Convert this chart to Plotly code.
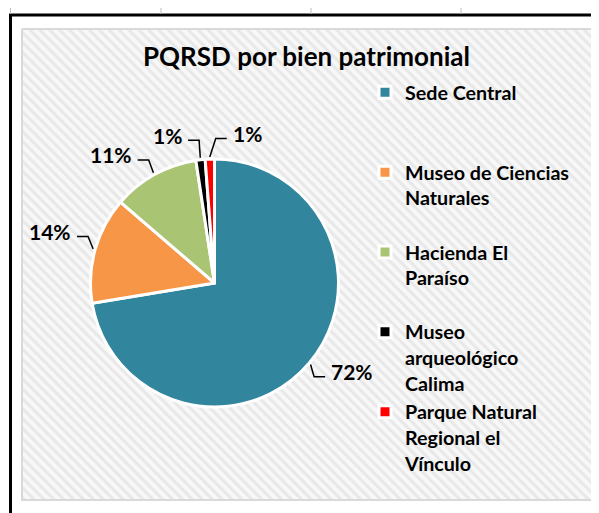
import math
import plotly.graph_objects as go

# ---------------- data ----------------
labels = [
    "Sede Central",
    "Museo de Ciencias Naturales",
    "Hacienda El Paraíso",
    "Museo arqueológico Calima",
    "Parque Natural Regional el Vínculo",
]
legend_text = [
    "<b>Sede Central</b><br> <br> ",
    "<b>Museo de Ciencias<br>Naturales</b><br> ",
    "<b>Hacienda El<br>Paraíso</b><br> ",
    "<b>Museo<br>arqueológico<br>Calima</b>",
    "<b>Parque Natural<br>Regional el<br>Vínculo</b>",
]
values = [72.4, 13.9, 11.3, 1.2, 1.2]
colors = ["#31859C", "#F79646", "#A9C472", "#000000", "#FF0000"]
title_text = "PQRSD por bien patrimonial"

# ---------------- layout constants (pixels, screen coordinates) ----------------
OFF = 8                      # page body margin
W, H = 599 - OFF, 513 - OFF  # figure size
SW, SH = 599, 513            # screen size
CX, CY, R = 214.5, 283.0, 124.0
FONT = "Lato"
# small angular nudges (deg) so the two tiny slice labels do not collide
label_nudge = [0, 3, -3, -4, 7]

fig = go.Figure()

# hatched chart-area background on a pixel-space overlay axis
bx0, by0, bx1, by1 = 22, 29, 593, 500
fig.add_trace(go.Scatter(
    x=[bx0, bx1, bx1, bx0, bx0], y=[by0, by0, by1, by1, by0],
    fill="toself", mode="lines",
    line=dict(color="#D9D9D9", width=2),
    fillcolor="#F4F4F4",
    fillpattern=dict(shape="\\", fgcolor="#D8D8D8", bgcolor="#F8F8F8",
                     size=7, solidity=0.45),
    hoverinfo="skip", showlegend=False,
))

# the pie
fig.add_trace(go.Pie(
    labels=legend_text, values=values, sort=False, direction="clockwise",
    rotation=0, marker=dict(colors=colors, line=dict(color="white", width=3)),
    textinfo="none", hovertext=labels, hoverinfo="text+percent",
    domain=dict(x=[(CX - OFF - R) / W, (CX - OFF + R) / W],
                y=[1 - (CY - OFF + R) / H, 1 - (CY - OFF - R) / H]),
))

# leader lines + percent labels computed from slice angles
total = sum(values)
cum = 0.0
annotations = []
for i, v in enumerate(values):
    mid = (cum + v / 2) / total * 360.0
    cum += v
    a = math.radians(mid)
    ex, ey = CX + (R + 2) * math.sin(a), CY - (R + 2) * math.cos(a)
    b = math.radians(mid + label_nudge[i])
    lx, ly = CX + 1.17 * R * math.sin(b), CY - 1.17 * R * math.cos(b)
    right = math.sin(b) > 0
    elx = lx - 11 if right else lx + 11
    fig.add_trace(go.Scatter(
        x=[ex, elx, lx], y=[ey, ly, ly], mode="lines",
        line=dict(color="black", width=1.5),
        hoverinfo="skip", showlegend=False,
    ))
    annotations.append(dict(
        x=lx + (4 if right else -4), y=ly - 5, xref="x", yref="y",
        text=f"<b>{round(v)}%</b>", showarrow=False,
        xanchor="left" if right else "right", yanchor="middle",
        font=dict(family=FONT, size=21, color="black"),
    ))

annotations.append(dict(
    x=306, y=56, xref="x", yref="y", text=f"<b>{title_text}</b>",
    showarrow=False, xanchor="center", yanchor="middle",
    font=dict(family=FONT, size=26, color="black"),
))

shapes = [
    dict(type="line", xref="x", yref="y", x0=9, x1=SW, y0=15, y1=15,
         line=dict(color="black", width=3)),
    dict(type="line", xref="x", yref="y", x0=10.5, x1=10.5, y0=14, y1=SH,
         line=dict(color="black", width=3)),
]
for tx in [10.5, 161, 311, 461]:
    shapes.append(dict(type="line", xref="x", yref="y", x0=tx, x1=tx,
                       y0=6, y1=14, line=dict(color="#BFBFBF", width=1)))

fig.update_layout(
    width=W, height=H, margin=dict(l=0, r=0, t=0, b=0),
    paper_bgcolor="white", plot_bgcolor="rgba(0,0,0,0)",
    xaxis=dict(range=[OFF, SW], domain=[0, 1], visible=False, fixedrange=True),
    yaxis=dict(range=[SH, OFF], domain=[0, 1], visible=False, fixedrange=True),
    showlegend=True,
    legend=dict(x=(365 - OFF) / W, y=1 - (73 - OFF) / H, xanchor="left",
                yanchor="top", valign="top", bgcolor="rgba(0,0,0,0)",
                font=dict(family=FONT, size=19.7, color="black"),
                itemclick=False, itemdoubleclick=False, tracegroupgap=0),
    annotations=annotations, shapes=shapes,
    font=dict(family=FONT),
)

fig.write_html("out.html")
